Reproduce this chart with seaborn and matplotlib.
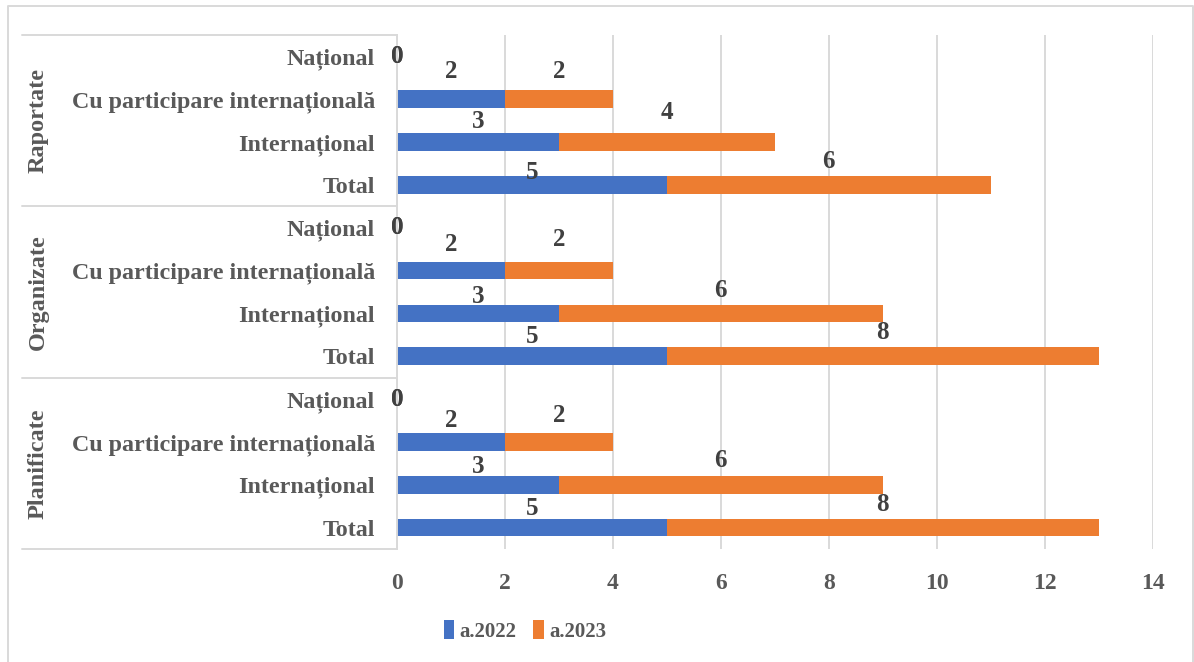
import matplotlib
matplotlib.use("Agg")
import matplotlib.pyplot as plt
import matplotlib.transforms as mtransforms
from matplotlib.lines import Line2D
from matplotlib.patches import Patch
import pandas as pd
import seaborn as sns

# ---- data ----
groups = ["Raportate", "Organizate", "Planificate"]
categories = ["Național", "Cu participare internațională", "Internațional", "Total"]
series_names = ["a.2022", "a.2023"]
values_2022 = {
    "Raportate": [0, 2, 3, 5],
    "Organizate": [0, 2, 3, 5],
    "Planificate": [0, 2, 3, 5],
}
values_2023 = {
    "Raportate": [0, 2, 4, 6],
    "Organizate": [0, 2, 6, 8],
    "Planificate": [0, 2, 6, 8],
}
x_ticks = [0, 2, 4, 6, 8, 10, 12, 14]

# ---- styling ----
BLUE = "#4472C4"
ORANGE = "#ED7D31"
GRID = "#D9D9D9"
TICK_COLOR = "#595959"
LABEL_COLOR = "#404040"
FONT = ["Liberation Serif", "DejaVu Serif"]

# vertical shift of value labels (in row units, negative = upwards), per row
label_shift_2022 = [0.0, -0.65, -0.47, -0.30,
                    0.0, -0.61, -0.40, -0.47,
                    0.0, -0.51, -0.42, -0.44]
label_shift_2023 = [0.0, -0.65, -0.70, -0.54,
                    0.0, -0.72, -0.54, -0.56,
                    0.0, -0.61, -0.56, -0.54]

rows = []
for g in groups:
    for c, a, b in zip(categories, values_2022[g], values_2023[g]):
        rows.append({"key": f"{g}|{c}", "group": g, "category": c,
                     "v2022": a, "v2023": b, "cum": a + b})
df = pd.DataFrame(rows)
order = list(df["key"])

sns.set_theme(style="white")
plt.rcParams["font.family"] = FONT

fig = plt.figure(figsize=(11.94, 6.62), dpi=100)
ax = fig.add_axes([397 / 1194, 1 - 549 / 662, (1152.7 - 397) / 1194, (549 - 35) / 662])

# stacked bars: full length in orange, 2022 part in blue on top
sns.barplot(data=df, y="key", x="cum", order=order, orient="h", color=ORANGE,
            saturation=1, width=0.41, ax=ax, errorbar=None, linewidth=0, zorder=3)
sns.barplot(data=df, y="key", x="v2022", order=order, orient="h", color=BLUE,
            saturation=1, width=0.41, ax=ax, errorbar=None, linewidth=0, zorder=4)

ax.set_xlim(0, 14)
ax.set_ylim(len(order) - 0.5, -0.5)
ax.set_xticks(x_ticks)
ax.set_xticklabels([str(t) for t in x_ticks], fontsize=17, fontweight="bold",
                   color=TICK_COLOR)
ax.set_yticks(range(len(order)))
ax.set_yticklabels(list(df["category"]), fontsize=17.3, fontweight="bold",
                   color=TICK_COLOR)
ax.tick_params(axis="y", length=0, pad=16)
ax.tick_params(axis="x", length=0, pad=17)
ax.set_xlabel("")
ax.set_ylabel("")
ax.xaxis.grid(True, color=GRID, linewidth=1.4, zorder=0)
ax.set_axisbelow(True)
for side in ["top", "right", "bottom"]:
    ax.spines[side].set_visible(False)
ax.spines["left"].set_color(GRID)
ax.spines["left"].set_linewidth(1.4)
ax.spines["left"].set_zorder(5)

# value labels
for i, r in df.iterrows():
    a, b = r["v2022"], r["v2023"]
    ax.text(a / 2, i + label_shift_2022[i], str(a), ha="center", va="center",
            fontsize=18, fontweight="bold", color=LABEL_COLOR, zorder=6)
    ax.text(a + b / 2, i + label_shift_2023[i], str(b), ha="center", va="center",
            fontsize=18, fontweight="bold", color=LABEL_COLOR, zorder=6)

# group separators and group names on the left
trans = mtransforms.blended_transform_factory(fig.transFigure, ax.transData)
n = len(categories)
for k in range(len(groups) + 1):
    y = k * n - 0.5
    fig.add_artist(Line2D([22 / 1194, 397 / 1194], [y, y], transform=trans,
                          color=GRID, linewidth=1.4))
for k, g in enumerate(groups):
    fig.text(38 / 1194, k * n + (n - 1) / 2, g, transform=trans, rotation=90,
             ha="center", va="center", fontsize=17.5, fontweight="bold",
             color=TICK_COLOR)

# outer frame
fx0, fx1, fy1 = 8 / 1194, 1193 / 1194, 1 - 6 / 662
fig.add_artist(Line2D([fx0, fx0, fx1, fx1], [0, fy1, fy1, 0],
                      transform=fig.transFigure, color=GRID, linewidth=1.4))

# legend
handles = [Patch(facecolor=BLUE, edgecolor="none"),
           Patch(facecolor=ORANGE, edgecolor="none")]
fig.legend(handles, series_names, loc="center", bbox_to_anchor=(525 / 1194, 1 - 631 / 662),
           ncol=2, frameon=False, prop={"family": FONT, "weight": "bold", "size": 15},
           labelcolor=TICK_COLOR, handlelength=0.5, handleheight=1.0,
           handletextpad=0.25, columnspacing=0.8)

fig.savefig("out.png", dpi=100)
